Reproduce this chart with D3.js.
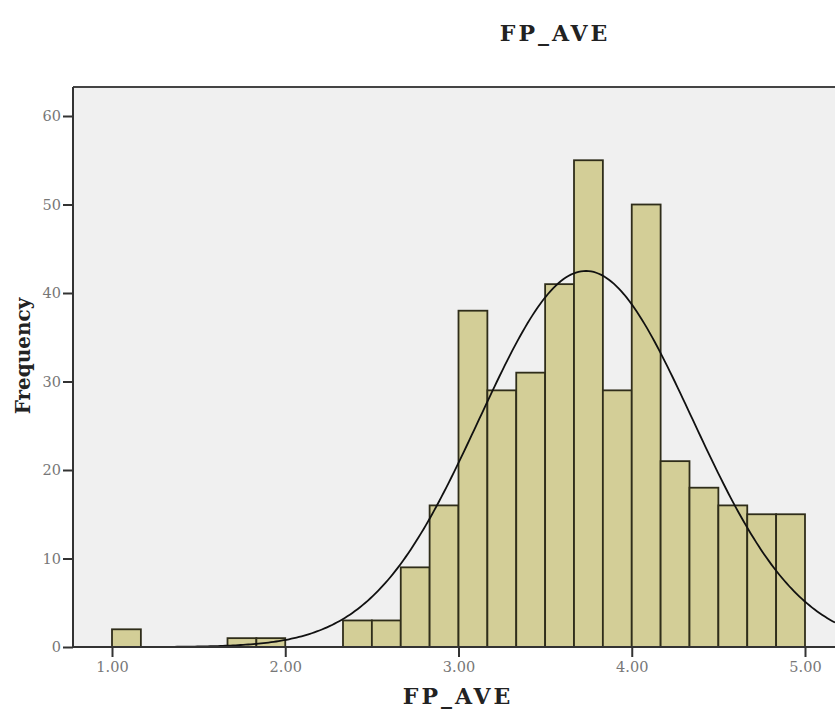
<!DOCTYPE html>
<html>
<head>
<meta charset="utf-8">
<script src="https://cdn.jsdelivr.net/npm/d3@7"></script>
<style>
  body { margin: 0; background: #fff; }
  svg { display: block; }
  .tick text { font-family: 'DejaVu Serif', serif; font-size: 14.5px; fill: #777; }
  .title { font-family: 'DejaVu Serif', serif; font-weight: bold; fill: #222; }
</style>
</head>
<body>
<svg id="chart" width="835" height="711"></svg>
<script>
// histogram bins (lower edge) and counts, bin width 1/6
const binStarts = [1.0, 1.1667, 1.3333, 1.5, 1.6667, 1.8333, 2.0, 2.1667, 2.3333, 2.5, 2.6667, 2.8333,
  3.0, 3.1667, 3.3333, 3.5, 3.6667, 3.8333, 4.0, 4.1667, 4.3333, 4.5, 4.6667, 4.8333];
const counts = [2, 0, 0, 0, 1, 1, 0, 0, 3, 3, 9, 16,
  38, 29, 31, 41, 55, 29, 50, 21, 18, 16, 15, 15];
const binWidth = 1 / 6;
const yTicks = [0, 10, 20, 30, 40, 50, 60];
const xTicks = [1, 2, 3, 4, 5];

// normal curve fit
const mean = 3.735;
const stdDev = 0.615;
const total = d3.sum(counts);

const svg = d3.select('#chart');
const width = 835;

// scales
const x = d3.scaleLinear().domain([1, 5]).range([112, 805]);
const y = d3.scaleLinear().domain([0, 60]).range([647, 116]);

const plotLeft = 73, plotTop = 87, plotBottom = 647;

// plot background
svg.append('rect')
  .attr('x', plotLeft)
  .attr('y', plotTop)
  .attr('width', width - plotLeft)
  .attr('height', plotBottom - plotTop)
  .attr('fill', '#f0f0f0');

// bars
svg.append('g')
  .selectAll('rect')
  .data(binStarts.map((s, i) => ({ start: s, count: counts[i] })).filter(d => d.count > 0))
  .enter()
  .append('rect')
  .attr('x', d => x(d.start))
  .attr('y', d => y(d.count))
  .attr('width', d => x(d.start + binWidth) - x(d.start))
  .attr('height', d => y(0) - y(d.count))
  .attr('fill', '#d3ce97')
  .attr('stroke', '#2f2d1a')
  .attr('stroke-width', 1.8);

// normal curve
const xMin = x.invert(plotLeft), xMax = x.invert(width);
const curveData = d3.range(0, 301).map(i => {
  const v = xMin + (xMax - xMin) * i / 300;
  const z = (v - mean) / stdDev;
  return [v, total * binWidth / (stdDev * Math.sqrt(2 * Math.PI)) * Math.exp(-0.5 * z * z)];
});
svg.append('path')
  .datum(curveData)
  .attr('fill', 'none')
  .attr('stroke', '#111')
  .attr('stroke-width', 1.8)
  .attr('d', d3.line().x(d => x(d[0])).y(d => y(d[1])));

// frame top
svg.append('line')
  .attr('x1', plotLeft).attr('x2', width)
  .attr('y1', plotTop).attr('y2', plotTop)
  .attr('stroke', '#444').attr('stroke-width', 2);

// axes
const yAxis = svg.append('g')
  .attr('transform', `translate(${plotLeft},0)`)
  .call(d3.axisLeft(y).tickValues(yTicks).tickSize(10).tickPadding(2).tickFormat(d3.format('d')));
yAxis.select('.domain').attr('d', `M0,${plotTop}V${plotBottom}`);

const xAxis = svg.append('g')
  .attr('transform', `translate(0,${plotBottom})`)
  .call(d3.axisBottom(x).tickValues(xTicks).tickSize(10).tickPadding(5).tickFormat(d3.format('.2f')));
xAxis.select('.domain').attr('d', `M${plotLeft},0H${width}`);

svg.selectAll('.domain').attr('stroke', '#333').attr('stroke-width', 2);
svg.selectAll('.tick line').attr('stroke', '#333').attr('stroke-width', 2);

// titles
svg.append('text')
  .attr('class', 'title')
  .attr('x', 555).attr('y', 41)
  .attr('text-anchor', 'middle')
  .style('font-size', '22px')
  .style('letter-spacing', '3px')
  .text('FP_AVE');

svg.append('text')
  .attr('class', 'title')
  .attr('x', 458).attr('y', 704)
  .attr('text-anchor', 'middle')
  .style('font-size', '22px')
  .style('letter-spacing', '3px')
  .text('FP_AVE');

svg.append('text')
  .attr('class', 'title')
  .attr('transform', 'translate(30,356) rotate(-90)')
  .attr('text-anchor', 'middle')
  .style('font-size', '20px')
  .text('Frequency');
</script>
</body>
</html>
